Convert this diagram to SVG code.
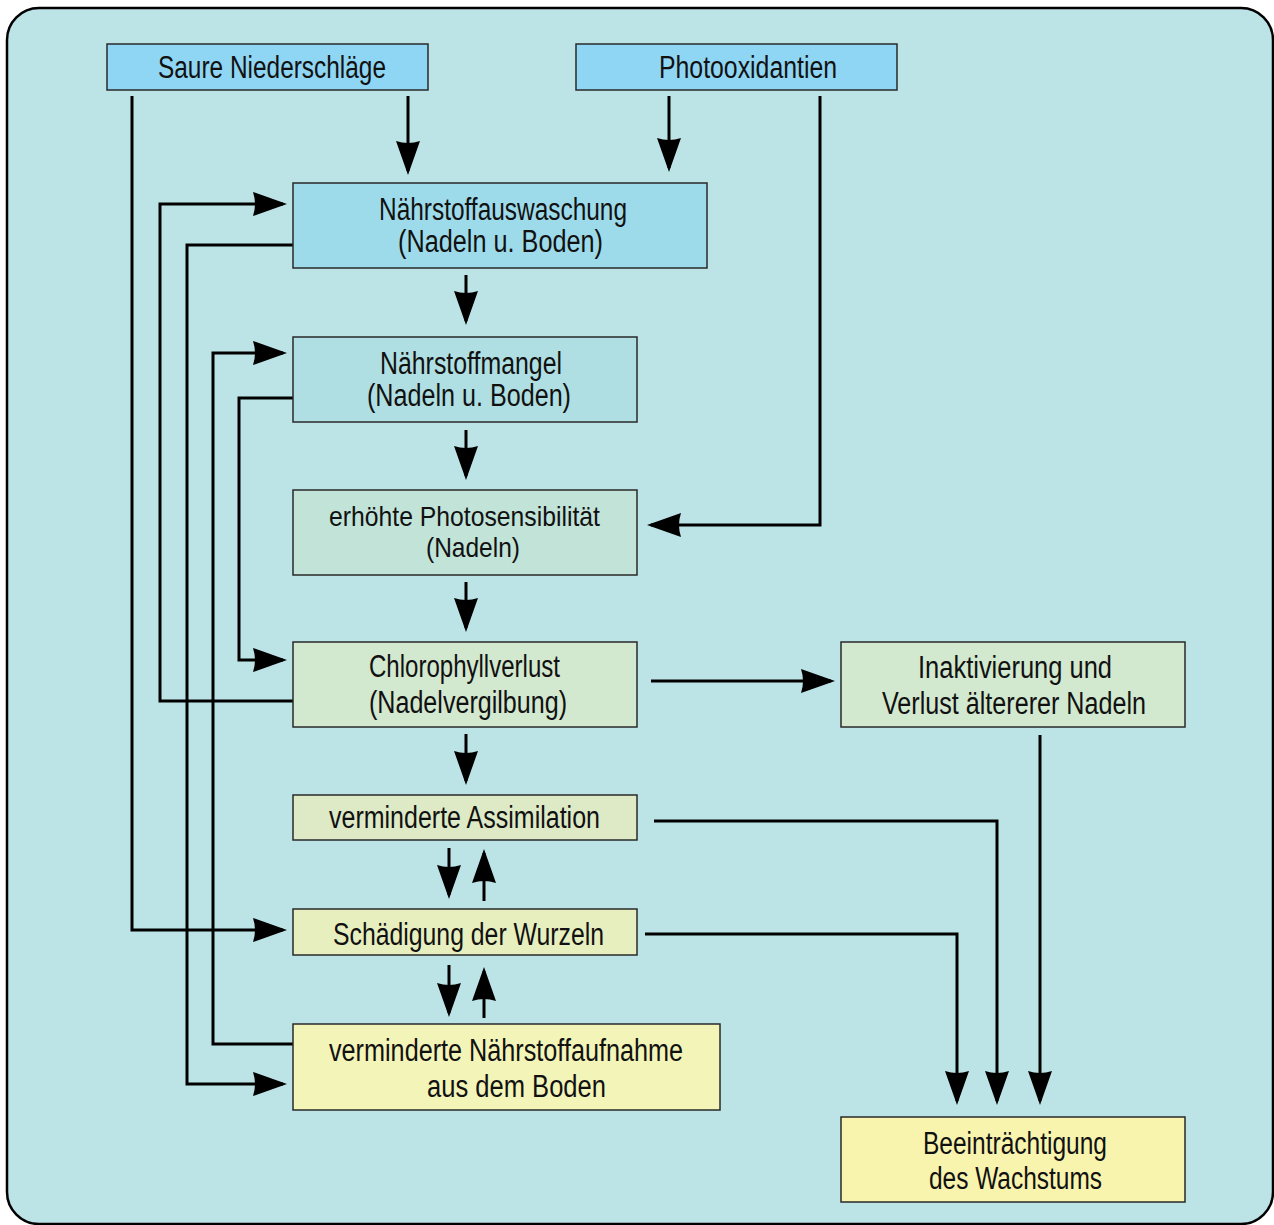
<svg xmlns="http://www.w3.org/2000/svg" width="1274" height="1225" viewBox="0 0 1274 1225">
<style>
.box{stroke:#2a2a2a;stroke-width:1.5}
.t{font-family:"Liberation Sans",Arial,sans-serif;font-size:31px;fill:#111}
.s{font-size:28px}
.c{fill:none;stroke:#000;stroke-width:3}
</style>
<defs>
<marker id="ah" viewBox="0 0 34 24" markerWidth="34" markerHeight="24" refX="30" refY="12" orient="auto" markerUnits="userSpaceOnUse">
<path d="M0,0 L34,12 L0,24 Q4,12 0,0 Z" fill="#000"/>
</marker>
</defs>
<rect x="7" y="8" width="1266" height="1216" rx="32" fill="#bce3e6" stroke="#000" stroke-width="2.5"/>
<g id="connectors">
<path class="c" d="M408,96 V171" marker-end="url(#ah)"/>
<path class="c" d="M669,96 V168" marker-end="url(#ah)"/>
<path class="c" d="M820,96 V525 H651" marker-end="url(#ah)"/>
<path class="c" d="M132,96 V930 H283" marker-end="url(#ah)"/>
<path class="c" d="M466,275 V321" marker-end="url(#ah)"/>
<path class="c" d="M466,430 V476" marker-end="url(#ah)"/>
<path class="c" d="M466,582 V628" marker-end="url(#ah)"/>
<path class="c" d="M466,734 V781" marker-end="url(#ah)"/>
<path class="c" d="M651,681 H831" marker-end="url(#ah)"/>
<path class="c" d="M449,848 V895" marker-end="url(#ah)"/>
<path class="c" d="M484,901 V853" marker-end="url(#ah)"/>
<path class="c" d="M449,965 V1013" marker-end="url(#ah)"/>
<path class="c" d="M484,1018 V971" marker-end="url(#ah)"/>
<path class="c" d="M654,821 H997 V1101" marker-end="url(#ah)"/>
<path class="c" d="M645,934 H957 V1101" marker-end="url(#ah)"/>
<path class="c" d="M1040,735 V1101" marker-end="url(#ah)"/>
<path class="c" d="M293,701 H160 V204 H283" marker-end="url(#ah)"/>
<path class="c" d="M293,245 H187 V1084 H283" marker-end="url(#ah)"/>
<path class="c" d="M293,1044 H213 V353 H283" marker-end="url(#ah)"/>
<path class="c" d="M293,398 H239 V660 H283" marker-end="url(#ah)"/>
</g>
<g id="saure">
<rect class="box" x="107" y="44" width="321" height="46" fill="#8fd6f4"/>
<text class="t" x="158" y="78" textLength="228" lengthAdjust="spacingAndGlyphs">Saure Niederschläge</text>
</g>
<g id="photo">
<rect class="box" x="576" y="44" width="321" height="46" fill="#8fd6f4"/>
<text class="t" x="659" y="78" textLength="178" lengthAdjust="spacingAndGlyphs">Photooxidantien</text>
</g>
<g id="auswaschung">
<rect class="box" x="293" y="183" width="414" height="85" fill="#9edbea"/>
<text class="t" x="379" y="220" textLength="248" lengthAdjust="spacingAndGlyphs">Nährstoffauswaschung</text>
<text class="t" x="398" y="252" textLength="205" lengthAdjust="spacingAndGlyphs">(Nadeln u. Boden)</text>
</g>
<g id="mangel">
<rect class="box" x="293" y="337" width="344" height="85" fill="#afdfe3"/>
<text class="t" x="380" y="374" textLength="182" lengthAdjust="spacingAndGlyphs">Nährstoffmangel</text>
<text class="t" x="367" y="406" textLength="204" lengthAdjust="spacingAndGlyphs">(Nadeln u. Boden)</text>
</g>
<g id="photosens">
<rect class="box" x="293" y="490" width="344" height="85" fill="#c2e3d8"/>
<text class="t s" x="329" y="526" textLength="271" lengthAdjust="spacingAndGlyphs">erhöhte Photosensibilität</text>
<text class="t s" x="426" y="557" textLength="94" lengthAdjust="spacingAndGlyphs">(Nadeln)</text>
</g>
<g id="chloro">
<rect class="box" x="293" y="642" width="344" height="85" fill="#d2e8cf"/>
<text class="t" x="369" y="677" textLength="191" lengthAdjust="spacingAndGlyphs">Chlorophyllverlust</text>
<text class="t" x="369" y="713" textLength="198" lengthAdjust="spacingAndGlyphs">(Nadelvergilbung)</text>
</g>
<g id="inaktiv">
<rect class="box" x="841" y="642" width="344" height="85" fill="#d2e8cf"/>
<text class="t" x="918" y="678" textLength="194" lengthAdjust="spacingAndGlyphs">Inaktivierung und</text>
<text class="t" x="882" y="714" textLength="264" lengthAdjust="spacingAndGlyphs">Verlust ältererer Nadeln</text>
</g>
<g id="assim">
<rect class="box" x="293" y="795" width="344" height="45" fill="#deeac6"/>
<text class="t" x="329" y="828" textLength="271" lengthAdjust="spacingAndGlyphs">verminderte Assimilation</text>
</g>
<g id="wurzeln">
<rect class="box" x="293" y="909" width="344" height="46" fill="#e8efbf"/>
<text class="t" x="333" y="945" textLength="271" lengthAdjust="spacingAndGlyphs">Schädigung der Wurzeln</text>
</g>
<g id="aufnahme">
<rect class="box" x="293" y="1024" width="427" height="86" fill="#f3f4b8"/>
<text class="t" x="329" y="1061" textLength="354" lengthAdjust="spacingAndGlyphs">verminderte Nährstoffaufnahme</text>
<text class="t" x="427" y="1097" textLength="179" lengthAdjust="spacingAndGlyphs">aus dem Boden</text>
</g>
<g id="wachstum">
<rect class="box" x="841" y="1117" width="344" height="85" fill="#f8f4ae"/>
<text class="t" x="923" y="1154" textLength="184" lengthAdjust="spacingAndGlyphs">Beeinträchtigung</text>
<text class="t" x="929" y="1189" textLength="173" lengthAdjust="spacingAndGlyphs">des Wachstums</text>
</g>
</svg>
